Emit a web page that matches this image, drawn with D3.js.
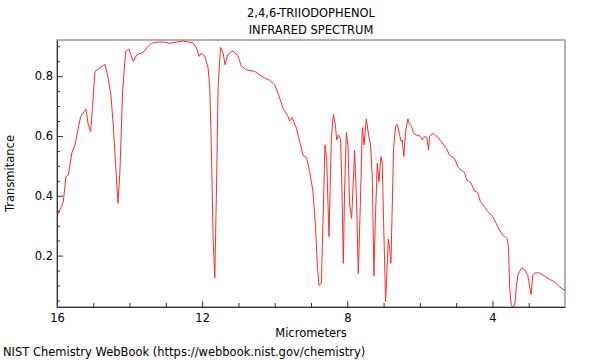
<!DOCTYPE html>
<html>
<head>
<meta charset="utf-8">
<script src="https://cdn.jsdelivr.net/npm/d3@7"></script>
<style>
  html, body { margin: 0; padding: 0; background: #fff; }
  svg text { font-family: "DejaVu Sans", sans-serif; }
</style>
</head>
<body>
<svg id="chart" width="600" height="360"></svg>
<script>
// Chart texts
const titleLines = ["2,4,6-TRIIODOPHENOL", "INFRARED SPECTRUM"];
const xLabel = "Micrometers";
const yLabel = "Transmitance";
const credit = "NIST Chemistry WebBook (https://webbook.nist.gov/chemistry)";

// Tick values
const xMajorTicks = [16, 12, 8, 4];
const xMinorTicks = [15, 14, 13, 11, 10, 9, 7, 6, 5, 3];
const yMajorTicks = [0.2, 0.4, 0.6, 0.8];
const yMinorTicks = [0.05, 0.1, 0.15, 0.25, 0.3, 0.35, 0.45, 0.5, 0.55, 0.65, 0.7, 0.75, 0.85, 0.9];

// Spectrum: wavelength (micrometers)
const wavelength = [
  16.0, 15.96, 15.917, 15.827, 15.752, 15.689, 15.642, 15.595, 15.505, 15.414,
  15.348, 15.202, 15.138, 15.072, 15.017, 14.954, 14.863, 14.679, 14.588, 14.514,
  14.450, 14.384, 14.321, 14.266, 14.192, 14.109, 14.018, 13.963, 13.900, 13.806,
  13.625, 13.531, 13.393, 13.212, 13.027, 12.890, 12.524, 12.248, 12.155, 12.083,
  12.017, 11.926, 11.835, 11.789, 11.742, 11.698, 11.651, 11.604, 11.560, 11.494,
  11.423, 11.368, 11.301, 11.147, 11.010, 10.916, 10.779, 10.550, 10.412, 10.275,
  10.137, 9.999, 9.909, 9.771, 9.634, 9.587, 9.523, 9.402, 9.311, 9.221,
  9.127, 9.036, 8.945, 8.879, 8.824, 8.780, 8.714, 8.670, 8.615, 8.568,
  8.505, 8.439, 8.384, 8.329, 8.293, 8.238, 8.183, 8.147, 8.109, 8.073,
  8.026, 7.982, 7.935, 7.880, 7.844, 7.798, 7.742, 7.696, 7.641, 7.585,
  7.541, 7.475, 7.412, 7.357, 7.310, 7.266, 7.228, 7.173, 7.129, 7.073,
  7.035, 6.999, 6.944, 6.908, 6.870, 6.834, 6.798, 6.760, 6.724, 6.669,
  6.622, 6.559, 6.512, 6.485, 6.441, 6.394, 6.331, 6.284, 6.237, 6.174,
  6.099, 6.008, 5.934, 5.871, 5.807, 5.761, 5.733, 5.642, 5.549, 5.411,
  5.273, 5.183, 5.045, 4.954, 4.861, 4.770, 4.707, 4.632, 4.585, 4.495,
  4.404, 4.329, 4.219, 4.128, 3.991, 3.897, 3.806, 3.715, 3.650, 3.594,
  3.559, 3.523, 3.484, 3.413, 3.374, 3.338, 3.302, 3.256, 3.192, 3.118,
  3.027, 2.980, 2.934, 2.889, 2.824, 2.705, 2.568, 2.430, 2.292, 2.155, 2.0
];

// Spectrum: transmittance
const transmittance = [
  0.345, 0.340, 0.352, 0.380, 0.464, 0.469, 0.503, 0.542, 0.570, 0.626,
  0.665, 0.690, 0.637, 0.615, 0.704, 0.816, 0.824, 0.840, 0.793, 0.737,
  0.637, 0.503, 0.375, 0.481, 0.749, 0.883, 0.891, 0.871, 0.849, 0.871,
  0.880, 0.894, 0.911, 0.914, 0.914, 0.910, 0.918, 0.911, 0.894, 0.866,
  0.877, 0.866, 0.827, 0.760, 0.536, 0.257, 0.126, 0.425, 0.760, 0.896,
  0.877, 0.838, 0.871, 0.885, 0.866, 0.833, 0.821, 0.816, 0.804, 0.794,
  0.786, 0.771, 0.743, 0.693, 0.665, 0.650, 0.662, 0.626, 0.581, 0.536,
  0.528, 0.481, 0.414, 0.302, 0.168, 0.101, 0.107, 0.313, 0.570, 0.525,
  0.263, 0.592, 0.673, 0.637, 0.587, 0.603, 0.587, 0.425, 0.174, 0.425,
  0.612, 0.570, 0.369, 0.324, 0.425, 0.553, 0.369, 0.140, 0.369, 0.628,
  0.570, 0.657, 0.603, 0.570, 0.458, 0.132, 0.313, 0.509, 0.447, 0.531,
  0.509, 0.313, 0.045, 0.146, 0.255, 0.224, 0.174, 0.369, 0.559, 0.632,
  0.639, 0.603, 0.581, 0.587, 0.531, 0.615, 0.657, 0.639, 0.635, 0.609,
  0.603, 0.601, 0.587, 0.598, 0.595, 0.553, 0.598, 0.609, 0.601, 0.581,
  0.559, 0.536, 0.525, 0.497, 0.486, 0.478, 0.453, 0.447, 0.442, 0.416,
  0.411, 0.380, 0.364, 0.347, 0.330, 0.308, 0.285, 0.268, 0.263, 0.257,
  0.230, 0.090, 0.034, 0.028, 0.045, 0.101, 0.132, 0.146, 0.159, 0.154,
  0.134, 0.101, 0.070, 0.134, 0.142, 0.142, 0.132, 0.121, 0.112, 0.096, 0.083
];

const xDomain = [16, 2];
const yDomain = [0.028, 0.921];
const FS = 11.5;

const svg = d3.select("#chart");
const W = 600, H = 360;
const m = { left: 57, right: 35, top: 40, bottom: 53 };
const pw = W - m.left - m.right, ph = H - m.top - m.bottom;

const x = d3.scaleLinear().domain(xDomain).range([m.left, m.left + pw]);
const y = d3.scaleLinear().domain(yDomain).range([m.top + ph, m.top]);

// frame
svg.append("rect")
  .attr("x", m.left).attr("y", m.top)
  .attr("width", pw).attr("height", ph)
  .attr("fill", "none").attr("stroke", "#999").attr("stroke-width", 1.5);

svg.append("defs").append("clipPath").attr("id", "clip")
  .append("rect").attr("x", m.left).attr("y", m.top).attr("width", pw).attr("height", ph);

const data = wavelength.map((w, i) => [w, transmittance[i]]);
const line = d3.line().x(d => x(d[0])).y(d => y(d[1]));
svg.append("path")
  .datum(data)
  .attr("clip-path", "url(#clip)")
  .attr("fill", "none")
  .attr("stroke", "#ff2a2a")
  .attr("stroke-width", 1)
  .attr("stroke-linejoin", "round")
  .attr("d", line);

// axes
const gx = svg.append("g").attr("transform", `translate(0,${m.top + ph})`);
gx.call(d3.axisBottom(x).tickValues(xMinorTicks).tickSize(-4).tickSizeOuter(0).tickFormat(""));
gx.call(g => g.select(".domain").remove());
const gx2 = svg.append("g").attr("transform", `translate(0,${m.top + ph})`);
gx2.call(d3.axisBottom(x).tickValues(xMajorTicks).tickSize(-6).tickSizeOuter(0).tickPadding(7).tickFormat(d3.format("d")));

const gy = svg.append("g").attr("transform", `translate(${m.left},0)`);
gy.call(d3.axisLeft(y).tickValues(yMinorTicks).tickSize(-3).tickSizeOuter(0).tickFormat(""));
gy.call(g => g.select(".domain").remove());
const gy2 = svg.append("g").attr("transform", `translate(${m.left},0)`);
gy2.call(d3.axisLeft(y).tickValues(yMajorTicks).tickSize(-6).tickSizeOuter(0).tickPadding(4).tickFormat(d3.format(".1f")));

svg.selectAll(".tick line").attr("stroke", "#333");
svg.selectAll(".domain").attr("stroke", "#333");
svg.selectAll(".tick text").attr("font-size", FS).attr("fill", "#000")
  .attr("font-family", '"DejaVu Sans", sans-serif');

// titles
svg.selectAll(".title").data(titleLines).enter().append("text")
  .attr("class", "title")
  .attr("x", m.left + pw / 2)
  .attr("y", (d, i) => 17 + i * 17)
  .attr("text-anchor", "middle")
  .attr("font-size", FS)
  .text(d => d);

svg.append("text")
  .attr("x", m.left + pw / 2).attr("y", 337)
  .attr("text-anchor", "middle").attr("font-size", FS)
  .text(xLabel);

svg.append("text")
  .attr("transform", `translate(14,${m.top + ph / 2}) rotate(-90)`)
  .attr("text-anchor", "middle").attr("font-size", FS)
  .text(yLabel);

svg.append("text")
  .attr("x", 3).attr("y", 356)
  .attr("font-size", FS)
  .text(credit);
</script>
</body>
</html>
